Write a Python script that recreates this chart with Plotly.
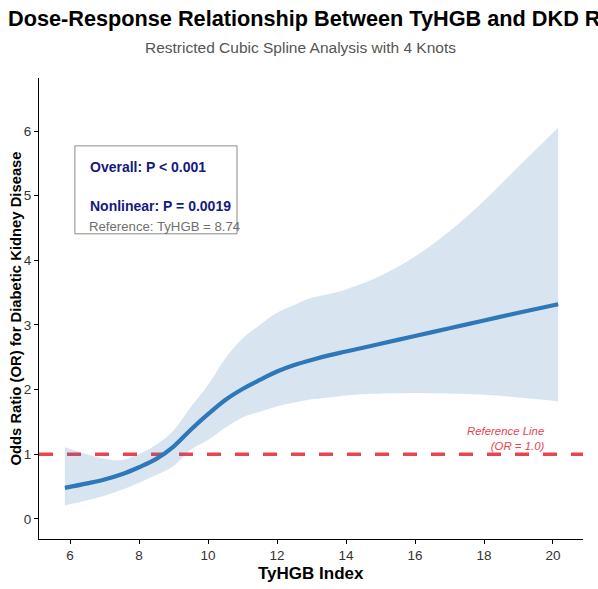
import plotly.graph_objects as go

# ---- data ----
tyhgb = [5.85, 6.5, 7.0, 7.5, 8.0, 8.5, 9.0, 9.5, 10.0, 10.5, 11.0, 11.5, 12.0,
         12.5, 13.0, 13.5, 14.0, 15.0, 16.0, 17.0, 18.0, 19.0, 20.15]
odds_ratio = [0.48, 0.55, 0.61, 0.69, 0.80, 0.93, 1.12, 1.38, 1.62, 1.84, 2.01,
              2.15, 2.28, 2.38, 2.46, 2.53, 2.59, 2.71, 2.83, 2.95, 3.07, 3.19, 3.32]
ci_upper = [1.11, 1.00, 0.93, 0.91, 1.00, 1.15, 1.37, 1.73, 2.07, 2.48, 2.79,
            3.00, 3.19, 3.31, 3.42, 3.48, 3.55, 3.76, 4.06, 4.45, 4.92, 5.45, 6.05]
ci_lower = [0.21, 0.29, 0.36, 0.45, 0.56, 0.68, 0.82, 1.07, 1.22, 1.41, 1.57,
            1.66, 1.74, 1.80, 1.85, 1.88, 1.91, 1.94, 1.95, 1.94, 1.92, 1.88, 1.82]
x_ticks = [6, 8, 10, 12, 14, 16, 18, 20]
y_ticks = [0, 1, 2, 3, 4, 5, 6]

FONT = "Liberation Sans, Arial, sans-serif"
BLUE = "#2E78BA"
RED = "#E94550"
NAVY = "#17197F"

fig = go.Figure()

fig.add_hline(y=1, line=dict(color=RED, width=3.5, dash="14px,14px"), layer="below")

fig.add_trace(go.Scatter(x=tyhgb, y=ci_upper, mode="lines", line=dict(width=0, shape="spline"),
                         hoverinfo="skip", showlegend=False))
fig.add_trace(go.Scatter(x=tyhgb, y=ci_lower, mode="lines", line=dict(width=0, shape="spline"),
                         fill="tonexty", fillcolor="rgba(46,117,182,0.19)",
                         hoverinfo="skip", showlegend=False))
fig.add_trace(go.Scatter(x=tyhgb, y=odds_ratio, mode="lines",
                         line=dict(color=BLUE, width=4.2, shape="spline"), showlegend=False))

# stats box
fig.add_shape(type="rect", xref="x", yref="y", x0=6.14, x1=10.84, y0=4.41, y1=5.77,
              line=dict(color="#8a8a8a", width=1), fillcolor="rgba(255,255,255,0)")
fig.add_annotation(x=6.52, y=5.44, xref="x", yref="y", text="<b>Overall: P &lt; 0.001</b>",
                   showarrow=False, xanchor="left", yanchor="middle",
                   font=dict(family=FONT, size=14, color=NAVY))
fig.add_annotation(x=6.52, y=4.84, xref="x", yref="y", text="<b>Nonlinear: P = 0.0019</b>",
                   showarrow=False, xanchor="left", yanchor="middle",
                   font=dict(family=FONT, size=14, color=NAVY))
fig.add_annotation(x=6.48, y=4.52, xref="x", yref="y", text="Reference: TyHGB = 8.74",
                   showarrow=False, xanchor="left", yanchor="middle",
                   font=dict(family=FONT, size=13.2, color="#707070"))

# reference line label
fig.add_annotation(x=19.79, y=1.25, xref="x", yref="y",
                   text="<i>Reference Line</i><br><i>(OR = 1.0)</i>", align="right",
                   showarrow=False, xanchor="right", yanchor="middle",
                   font=dict(family=FONT, size=11.4, color=RED))

# subtitle and axis titles
fig.add_annotation(x=0.48, y=1.067, xref="paper", yref="paper",
                   text="Restricted Cubic Spline Analysis with 4 Knots",
                   showarrow=False, xanchor="center", yanchor="middle",
                   font=dict(family=FONT, size=15.5, color="#555555"))
fig.add_annotation(x=-0.0441, y=0.5, xref="paper", yref="paper",
                   text="<b>Odds Ratio (OR) for Diabetic Kidney Disease</b>", textangle=-90,
                   showarrow=False, xanchor="center", yanchor="middle",
                   font=dict(family=FONT, size=14.8, color="black"))
fig.add_annotation(x=0.5, y=-0.0738, xref="paper", yref="paper",
                   text="<b>TyHGB Index</b>",
                   showarrow=False, xanchor="center", yanchor="middle",
                   font=dict(family=FONT, size=17, color="black"))

fig.update_layout(
    width=598, height=589,
    margin=dict(l=39, r=15, t=78, b=50),
    paper_bgcolor="white", plot_bgcolor="white",
    title=dict(text="<b>Dose-Response Relationship Between TyHGB and DKD Risk</b>",
               xref="container", yref="container", x=8/598, xanchor="left",
               y=1 - 18/589, yanchor="middle",
               font=dict(family=FONT, size=21.7, color="black")),
    font=dict(family=FONT),
    showlegend=False,
)
fig.update_xaxes(range=[5.1, 20.87], tickvals=x_ticks, showline=True, linecolor="black",
                 linewidth=1.2, ticks="outside", ticklen=4, tickcolor="black",
                 showgrid=False, zeroline=False,
                 tickfont=dict(family=FONT, size=13.5, color="#333333"))
fig.update_yaxes(range=[-0.31, 6.82], tickvals=y_ticks, showline=True, linecolor="black",
                 linewidth=1.2, ticks="outside", ticklen=4, tickcolor="black",
                 showgrid=False, zeroline=False,
                 tickfont=dict(family=FONT, size=13.5, color="#333333"))

fig.write_html("out.html")
